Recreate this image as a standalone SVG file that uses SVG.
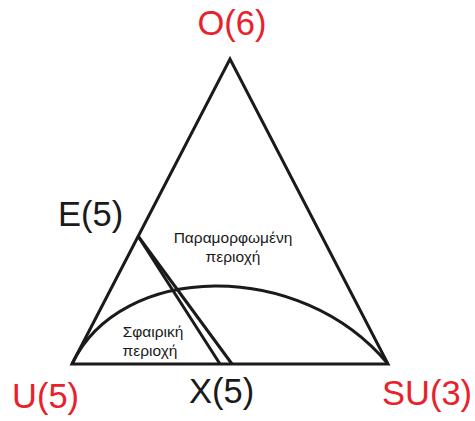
<svg xmlns="http://www.w3.org/2000/svg" width="475" height="421" viewBox="0 0 475 421">
<style>
.ln{fill:none;stroke:#1a1a1a;stroke-width:3;stroke-linejoin:miter}
.red{fill:#e8212b;font-family:"Liberation Sans",Arial,sans-serif;font-size:34.5px}
.blk{fill:#1a1a1a;font-family:"Liberation Sans",Arial,sans-serif;font-size:34.5px}
.sm{fill:#1a1a1a;font-family:"Liberation Sans",Arial,sans-serif;font-size:15.5px;text-anchor:middle}
</style>
<rect width="475" height="421" fill="#fff"/>
<g id="connectors">
<path class="ln" d="M72,364 L230,59 L388,364 Z"/>
<path class="ln" d="M138,236 L220,364"/>
<path class="ln" d="M138,236 L232,364"/>
<path class="ln" d="M72,364 C120,262 300,258 388,364"/>
</g>
<g id="O"><text class="red" x="232" y="35" text-anchor="middle">O(6)</text></g>
<g id="U"><text class="red" x="12" y="408">U(5)</text></g>
<g id="SU"><text class="red" x="382" y="405">SU(3)</text></g>
<g id="E"><text class="blk" x="58" y="226">E(5)</text></g>
<g id="X"><text class="blk" x="189" y="403">X(5)</text></g>
<g id="deformed"><text class="sm" x="233" y="243">Παραμορφωμένη</text><text class="sm" x="233" y="262">περιοχή</text></g>
<g id="spherical"><text class="sm" x="153" y="337">Σφαιρική</text><text class="sm" x="150" y="356">περιοχή</text></g>
</svg>
